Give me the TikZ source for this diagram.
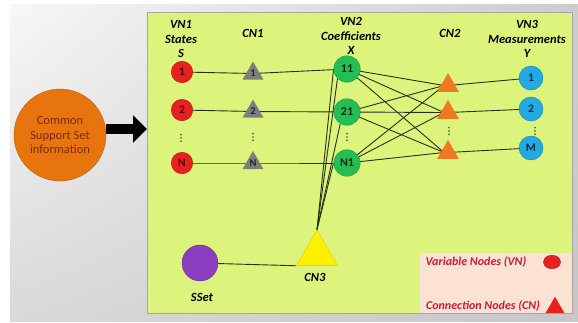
\documentclass[tikz,border=0pt]{standalone}
\usepackage{fontspec}
\setmainfont{Carlito}
\usetikzlibrary{shapes.geometric,arrows.meta,shadings}
\pgfdeclarelayer{back}
\pgfdeclarelayer{edges}
\pgfsetlayers{back,edges,main}
\definecolor{cPanel}{HTML}{DCF47C}
\definecolor{cRed}{HTML}{E82020}
\definecolor{cRedD}{HTML}{B41414}
\definecolor{cRedT}{HTML}{4A0808}
\definecolor{cGray}{HTML}{7E7E7E}
\definecolor{cGreen}{HTML}{24BE55}
\definecolor{cGreenD}{HTML}{179A3E}
\definecolor{cGreenT}{HTML}{0B2E12}
\definecolor{cOrT}{HTML}{F07820}
\definecolor{cBlue}{HTML}{22AAE2}
\definecolor{cBlueD}{HTML}{1680B0}
\definecolor{cBlueT}{HTML}{0A2850}
\definecolor{cPurple}{HTML}{8B3DC0}
\definecolor{cYellow}{HTML}{FFF000}
\definecolor{cOrC}{HTML}{E8740E}
\definecolor{cOrCT}{HTML}{7B2A0E}
\definecolor{cPeach}{HTML}{FBE2D2}
\definecolor{cLeg}{HTML}{C41E3A}
\definecolor{cLine}{HTML}{26301A}
\begin{document}
\begin{tikzpicture}[x=1pt,y=-1pt,
  lab/.style={font=\fontsize{12.5}{14.5}\selectfont\bfseries\itshape, align=center, text=black, inner sep=0},
  redn/.style={circle, inner sep=0, minimum size=21.5pt, fill=cRed, draw=cRedD, line width=0.4pt, text=cRedT, font=\fontsize{11.5}{12}\selectfont\bfseries},
  greenn/.style={circle, inner sep=0, minimum size=26.5pt, fill=cGreen, draw=cGreenD, line width=0.4pt, text=cGreenT, font=\fontsize{12}{12}\selectfont\bfseries},
  bluen/.style={circle, inner sep=0, minimum size=24pt, fill=cBlue, draw=cBlueD, line width=0.4pt, text=cBlueT, font=\fontsize{11.5}{12}\selectfont\bfseries},
  graytri/.style={regular polygon, regular polygon sides=3, inner sep=0, minimum size=24pt, fill=cGray, text=black!85, font=\fontsize{10.5}{11}\selectfont\bfseries},
  ortri/.style={regular polygon, regular polygon sides=3, inner sep=0, minimum size=25pt, fill=cOrT},
  dotc/.style={fill=black!75},
  edge/.style={draw=cLine, line width=0.9pt},
  legtext/.style={font=\fontsize{12}{14}\selectfont\bfseries\itshape, text=cLeg, inner sep=0}
]
\useasboundingbox (0,0) rectangle (578,322);
\begin{pgfonlayer}{back}
  \fill[white] (0,0) rectangle (578,322);
  \shade[upper left=black!3, upper right=black!20, lower left=black!15, lower right=black!22] (10,4) rectangle (578,321);
  \fill[cPanel, draw=black!35, line width=0.6pt] (147,12) rectangle (572,313);
  \fill[cPeach] (419.5,253) rectangle (571.7,312.7);
\end{pgfonlayer}

% left circle and arrow
\node[circle, minimum size=92pt, inner sep=0, fill=cOrC, draw=cOrC!80!black, line width=0.4pt, text=cOrCT, align=center,
  font=\fontsize{12.5}{14.5}\selectfont] (cs) at (60,135) {Common\\Support Set\\information};
\coordinate (tip) at (147,129);
\draw[line width=10.5pt, -{Triangle[length=14pt,width=27pt]}] (cs.east |- tip) -- (tip);

% column labels
\node[lab] (lvn1) at (181,39) {VN1\\States\\S};
\node[lab] (lcn1) at (253,33) {CN1};
\node[lab] (lvn2) at (351,36) {VN2\\Coefficients\\X};
\node[lab] (lcn2) at (450,33) {CN2};
\node[lab] (lvn3) at (527,39) {VN3\\Measurements\\Y};

% VN1
\node[redn] (r1) at (182,72) {1};
\node[redn] (r2) at (182,110) {2};
\node[redn] (rN) at (182,163) {N};
% CN1
\node[graytri] (g1) at (253,73.5) {1};
\node[graytri] (g2) at (253,111.5) {2};
\node[graytri] (gN) at (253,163) {N};
% VN2
\node[greenn] (x1) at (347,69) {11};
\node[greenn] (x2) at (347,112) {21};
\node[greenn] (xN) at (347,163) {N1};
% CN2
\node[ortri] (o1) at (448,85.5) {};
\node[ortri] (o2) at (448,112.5) {};
\node[ortri] (o3) at (448,152.5) {};
% VN3
\node[bluen] (y1) at (531,78) {1};
\node[bluen] (y2) at (531,109) {2};
\node[bluen] (yM) at (531,148) {M};
% bottom
\node[circle, minimum size=36pt, inner sep=0, fill=cPurple, draw=cPurple!80!black, line width=0.4pt] (ss) at (200,263) {};
\node[regular polygon, regular polygon sides=3, inner sep=0, minimum size=47.4pt, fill=cYellow, draw=cYellow!85!black, line width=0.4pt] (cn3) at (317,253.7) {};
\node[lab] (lcn3) at (315,277) {CN3};
\node[lab] (lss) at (202,297) {SSet};

% vertical dots
\foreach \dx/\dy in {181/138, 253/137, 347/137, 449/131, 535/131}{
  \foreach \k in {-3.2,0,3.2}{
    \fill[dotc] (\dx,\dy+\k) circle (0.85pt);
  }
}

% legend
\node[legtext] (lv) at (476,262) {Variable Nodes (VN)};
\node[ellipse, inner sep=0, minimum width=17pt, minimum height=13.5pt, fill=cRed, draw=cRedD, line width=0.4pt] (le) at (552,262) {};
\node[legtext] (lc) at (483,306) {Connection Nodes (CN)};
\node[regular polygon, regular polygon sides=3, inner sep=0, minimum size=21.4pt, fill=cRed] (lt) at (555,307.4) {};

% edges
\begin{pgfonlayer}{edges}
  \draw[edge] (r1.center) -- (g1.center) -- (x1.center);
  \draw[edge] (r2.center) -- (g2.center) -- (x2.center);
  \draw[edge] (rN.center) -- (gN.center) -- (xN.center);
  \foreach \a in {x1,x2,xN}{
    \foreach \b in {o1,o2,o3}{
      \draw[edge] (\a.center) -- ([xshift=-4pt]\b.center);
    }
  }
  \draw[edge] (o1.center) -- (y1.center);
  \draw[edge] (o2.center) -- (y2.center);
  \draw[edge] (o3.center) -- (yM.center);
  \draw[edge] (cn3.corner 1) -- (x1.west);
  \draw[edge] (cn3.corner 1) -- (x1.225);
  \draw[edge] (cn3.corner 1) -- (x2.240);
  \draw[edge] (cn3.corner 1) -- (xN.west);
  \draw[edge] (ss.center) -- (cn3.corner 2);
\end{pgfonlayer}
\end{tikzpicture}
\end{document}
